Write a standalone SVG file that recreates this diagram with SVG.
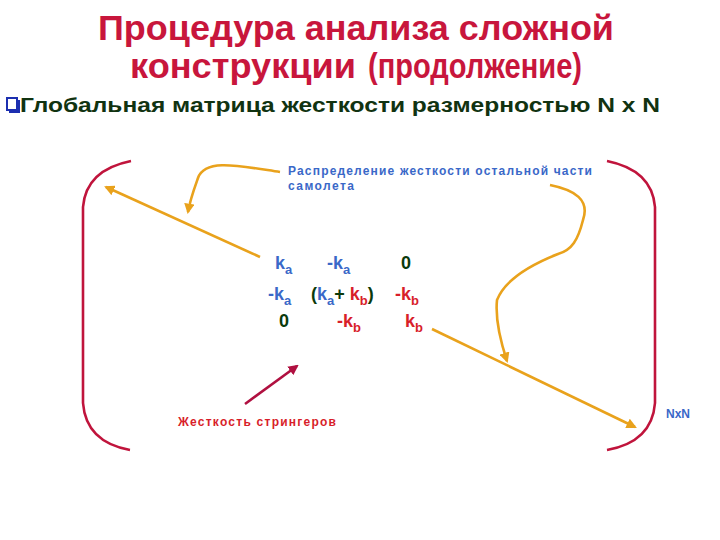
<svg xmlns="http://www.w3.org/2000/svg" width="720" height="540" viewBox="0 0 720 540">
<defs>
<style>
text{font-family:"Liberation Sans",Arial,sans-serif;font-weight:bold}
.title{fill:#C8163C;font-size:35px}
.bul{fill:#113311;font-size:21px}
.blue{fill:#3A68C8}
.red{fill:#D81E2A}
.grn{fill:#0B3A0B}
.mx{font-size:18px}
.sub{font-size:13px}
.note{font-size:12px}
.br{fill:none;stroke:#C0143C;stroke-width:2.6}
.or{fill:none;stroke:#E9A21C;stroke-width:2.6}
.cr{fill:none;stroke:#B01040;stroke-width:2.6}
</style>
<marker id="ao" viewBox="0 0 10 10" refX="8" refY="5" markerWidth="4" markerHeight="4" orient="auto" markerUnits="strokeWidth"><path d="M0,0 L10,5 L0,10 z" fill="#E9A21C"/></marker>
<marker id="ac" viewBox="0 0 10 10" refX="8" refY="5" markerWidth="4" markerHeight="4" orient="auto" markerUnits="strokeWidth"><path d="M0,0 L10,5 L0,10 z" fill="#B01040"/></marker>
</defs>
<rect width="720" height="540" fill="#fff"/>
<g id="title">
<text class="title" x="98" y="40" textLength="516" lengthAdjust="spacingAndGlyphs">Процедура анализа сложной</text>
<text class="title" x="130" y="78" textLength="226" lengthAdjust="spacingAndGlyphs">конструкции</text>
<text class="title" x="368" y="78" font-size="27px" textLength="214" lengthAdjust="spacingAndGlyphs">(продолжение)</text>
</g>
<g id="bullet">
<rect x="7" y="98" width="10" height="12" fill="#fff" stroke="#1C2FB0" stroke-width="2"/>
<path d="M9,112 H19 V100" fill="none" stroke="#1C2FB0" stroke-width="2"/>
<text class="bul" x="20" y="112" textLength="640" lengthAdjust="spacingAndGlyphs">Глобальная матрица жесткости размерностью N x N</text>
</g>
<g id="brackets">
<path class="br" d="M131,161 Q86,170 83,207 V403 Q86,442 130,450"/>
<path class="br" d="M607,161 Q652,170 655,207 V403 Q652,442 607,450"/>
</g>
<g id="label-rest">
<text class="blue note" x="288" y="175" textLength="304" lengthAdjust="spacing">Распределение жесткости остальной части</text>
<text class="blue note" x="288" y="190" textLength="66" lengthAdjust="spacing">самолета</text>
</g>
<g id="matrix" class="mx">
<text class="blue" x="275" y="269">k<tspan class="sub" dy="5">a</tspan></text>
<text class="blue" x="327" y="269">-k<tspan class="sub" dy="5">a</tspan></text>
<text class="grn" x="401" y="269">0</text>
<text class="blue" x="268" y="300">-k<tspan class="sub" dy="5">a</tspan></text>
<text x="311" y="300"><tspan class="grn">(</tspan><tspan class="blue">k</tspan><tspan class="blue sub" dy="5">a</tspan><tspan class="grn" dy="-5">+ </tspan><tspan class="red">k</tspan><tspan class="red sub" dy="5">b</tspan><tspan class="grn" dy="-5">)</tspan></text>
<text class="red" x="395" y="300">-k<tspan class="sub" dy="5">b</tspan></text>
<text class="grn" x="279" y="327">0</text>
<text class="red" x="337" y="327">-k<tspan class="sub" dy="5">b</tspan></text>
<text class="red" x="405" y="327">k<tspan class="sub" dy="5">b</tspan></text>
</g>
<g id="label-stringers">
<text class="red note" x="178" y="426" textLength="158" lengthAdjust="spacing">Жесткость стрингеров</text>
</g>
<g id="label-nxn">
<text class="blue note" x="666" y="418">NxN</text>
</g>
<g id="connectors">
<path class="or" marker-end="url(#ao)" d="M280,172 C240,166 205,158 198,178 C193,192 190,200 188,212"/>
<path class="or" marker-end="url(#ao)" d="M260,257 L106,187"/>
<path class="or" marker-end="url(#ao)" d="M550,185 C575,190 590,200 583,220 C578,240 572,250 558,254 C530,265 505,280 497,300 C495,320 500,340 507,361"/>
<path class="or" marker-end="url(#ao)" d="M432,329 L635,427"/>
<path class="cr" marker-end="url(#ac)" d="M245,404 L297,366"/>
</g>
</svg>
